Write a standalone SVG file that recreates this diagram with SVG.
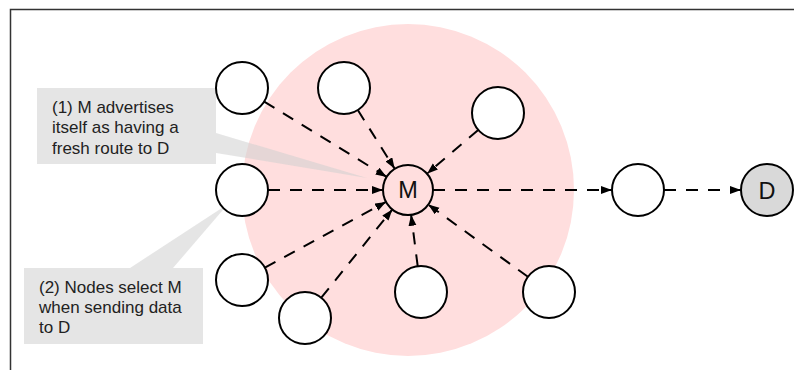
<svg xmlns="http://www.w3.org/2000/svg" width="794" height="370" viewBox="0 0 794 370">
<defs>
<marker id="ah" markerUnits="userSpaceOnUse" markerWidth="12" markerHeight="10" refX="11" refY="4" orient="auto">
<path d="M0,0 L11,4 L0,8 Z" fill="#000"/>
</marker>
<style>
.node{fill:#fff;stroke:#000;stroke-width:2}
.edge{fill:none;stroke:#000;stroke-width:2;stroke-dasharray:12,10;marker-end:url(#ah)}
.callout{fill:#cfcfcf;fill-opacity:0.55}
.ct{font-family:"Liberation Sans",Arial,sans-serif;font-size:17px;fill:#222}
.lbl{font-family:"Liberation Sans",Arial,sans-serif;font-size:23.5px;fill:#111;text-anchor:middle}
</style>
</defs>
<rect width="794" height="370" fill="#fff"/>
<path d="M10.5,370 V9.5 H794" fill="none" stroke="#333" stroke-width="1.5"/>
<circle id="range" cx="408" cy="190" r="166" fill="#ffdede"/>
<g id="callout1">
<path class="callout" d="M37,88 H216 V133 L367,178 L216,153 V164 H37 Z"/>
<text class="ct" x="52" y="113">(1) M advertises</text>
<text class="ct" x="52" y="133">itself as having a</text>
<text class="ct" x="52" y="153.5">fresh route to D</text>
</g>
<g id="callout2">
<path class="callout" d="M24,268 H130 L228,204 L173,268 H203 V344 H24 Z"/>
<text class="ct" x="39" y="292.5">(2) Nodes select M</text>
<text class="ct" x="39" y="312.5">when sending data</text>
<text class="ct" x="39" y="332.5">to D</text>
</g>
<g id="connectors">
<line class="edge" x1="264.2" y1="101.6" x2="386.7" y2="176.9"/>
<line class="edge" x1="357.8" y1="110" x2="394.7" y2="168.8"/>
<line class="edge" x1="478.2" y1="129.9" x2="427" y2="173.7"/>
<line class="edge" x1="268" y1="190" x2="383" y2="190"/>
<line class="edge" x1="264.9" y1="267.6" x2="386" y2="201.9"/>
<line class="edge" x1="321.3" y1="297.7" x2="392.3" y2="209.5"/>
<line class="edge" x1="417.7" y1="266.2" x2="411.1" y2="214.8"/>
<line class="edge" x1="527.9" y1="276.8" x2="428.2" y2="204.6"/>
<line class="edge" x1="433" y1="190" x2="612" y2="190"/>
<line class="edge" x1="664" y1="190" x2="741" y2="190"/>
</g>
<g id="n1"><circle class="node" cx="242" cy="88" r="26"/></g>
<g id="n2"><circle class="node" cx="344" cy="88" r="26"/></g>
<g id="n3"><circle class="node" cx="498" cy="113" r="26"/></g>
<g id="n4"><circle class="node" cx="242" cy="190" r="26"/></g>
<g id="n5"><circle class="node" cx="242" cy="280" r="26"/></g>
<g id="n6"><circle class="node" cx="305" cy="318" r="26"/></g>
<g id="n7"><circle class="node" cx="421" cy="292" r="26"/></g>
<g id="n8"><circle class="node" cx="549" cy="292" r="26"/></g>
<g id="M"><circle cx="408" cy="190" r="25" fill="none" stroke="#000" stroke-width="2"/><text class="lbl" x="408" y="198">M</text></g>
<g id="relay"><circle class="node" cx="638" cy="190" r="26"/></g>
<g id="D"><circle cx="767" cy="190" r="26" fill="#d9d9d9" stroke="#000" stroke-width="2"/><text class="lbl" x="767" y="199">D</text></g>
</svg>
